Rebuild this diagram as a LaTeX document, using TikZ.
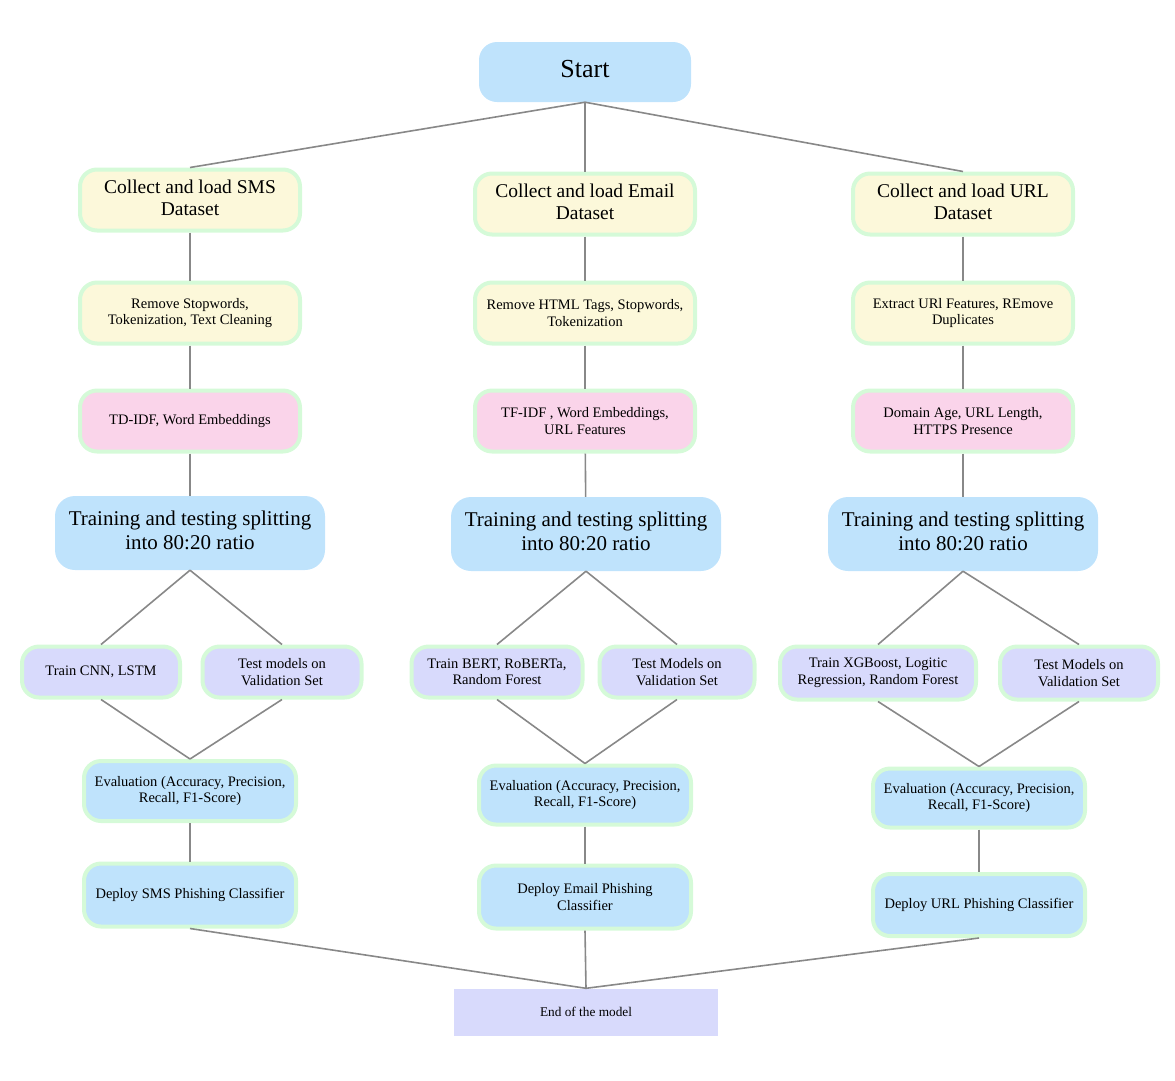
\documentclass[tikz,border=0pt]{standalone}
\usepackage{fontspec}
\usepackage{graphicx}
\setmainfont{Liberation Serif}
\definecolor{cblue}{HTML}{BFE3FC}
\definecolor{cyellow}{HTML}{FCF8DA}
\definecolor{cpink}{HTML}{FAD4EA}
\definecolor{clav}{HTML}{D8DAFC}
\definecolor{cgreen}{HTML}{D5FAD8}
\definecolor{cline}{HTML}{888888}
\newcommand\sctxt[3]{\scalebox{#1}{\fontsize{10}{#2}\selectfont\begin{tabular}{@{}c@{}}#3\end{tabular}}}
\newcommand\bigtxt[1]{\sctxt{1.95}{11.3}{#1}}
\newcommand\trtxt[1]{\sctxt{2.1}{11.4}{#1}}
\begin{document}
\begin{tikzpicture}[x=1pt,y=-1pt,
  base/.style={align=center,inner sep=0pt},
  bbox/.style={base,rounded corners=17pt,draw=cgreen,line width=4pt},
  small/.style={font=\fontsize{14.5}{16.5}\selectfont},
  ybox/.style={bbox,fill=cyellow,minimum width=220pt,minimum height=61pt},
  pbox/.style={bbox,fill=cpink,small,minimum width=220pt,minimum height=61pt},
  tbox/.style={base,fill=cblue,rounded corners=20pt,minimum width=270pt,minimum height=74pt},
  lbox/.style={bbox,fill=clav,small,minimum height=51pt},
  ebox/.style={bbox,fill=cblue,small,minimum width=212pt},
  conn/.style={draw=cline,line width=1.6pt}]
\useasboundingbox (0,0) rectangle (1175,1080);

\node[base,fill=cblue,rounded corners=18pt,minimum width=212pt,minimum height=60pt] (start) at (585,72) {\sctxt{2.6}{11.5}{Start}};

% column SMS
\node[ybox] (s1) at (190,200) {\bigtxt{Collect and load SMS\\Dataset}};
\node[ybox,small] (s2) at (190,313) {Remove Stopwords,\\Tokenization, Text Cleaning};
\node[pbox] (s3) at (190,421) {TD-IDF, Word Embeddings};
\node[tbox] (s4) at (190,533) {\trtxt{Training and testing splitting\\into 80:20 ratio}};
\node[lbox,minimum width=158pt] (s5) at (101,672) {Train CNN, LSTM};
\node[lbox,minimum width=159pt] (s6) at (282,672) {Test models on\\Validation Set};
\node[ebox,minimum height=60pt] (s7) at (190,791) {Evaluation (Accuracy, Precision,\\Recall, F1-Score)};
\node[ebox,minimum height=63pt] (s8) at (190,895) {Deploy SMS Phishing Classifier};

% column Email
\node[ybox] (m1) at (585,204) {\bigtxt{Collect and load Email\\Dataset}};
\node[ybox,small] (m2) at (585,313) {Remove HTML Tags, Stopwords,\\Tokenization};
\node[pbox] (m3) at (585,421) {TF-IDF , Word Embeddings,\\URL Features};
\node[tbox] (m4) at (586,534) {\trtxt{Training and testing splitting\\into 80:20 ratio}};
\node[lbox,minimum width=171pt] (m5) at (497,672) {Train BERT, RoBERTa,\\Random Forest};
\node[lbox,minimum width=155pt] (m6) at (677,672) {Test Models on\\Validation Set};
\node[ebox,minimum height=59pt] (m7) at (585,795) {Evaluation (Accuracy, Precision,\\Recall, F1-Score)};
\node[ebox,minimum height=63pt] (m8) at (585,897) {Deploy Email Phishing\\Classifier};

% column URL
\node[ybox] (u1) at (963,204) {\bigtxt{Collect and load URL\\Dataset}};
\node[ybox,small] (u2) at (963,313) {Extract URl Features, REmove\\Duplicates};
\node[pbox] (u3) at (963,421) {Domain Age, URL Length,\\HTTPS Presence};
\node[tbox] (u4) at (963,534) {\trtxt{Training and testing splitting\\into 80:20 ratio}};
\node[lbox,minimum width=196pt,minimum height=53pt] (u5) at (878,673) {Train XGBoost, Logitic\\Regression, Random Forest};
\node[lbox,minimum width=158pt,minimum height=53pt] (u6) at (1079,673) {Test Models on\\Validation Set};
\node[ebox,minimum height=59pt] (u7) at (979,798) {Evaluation (Accuracy, Precision,\\Recall, F1-Score)};
\node[ebox,minimum height=62pt] (u8) at (979,905) {Deploy URL Phishing Classifier};

\node[base,fill=clav,minimum width=264pt,minimum height=47pt,font=\fontsize{13.3}{15}\selectfont] (end) at (586,1012) {End of the model};

% connectors
\draw[conn] (start.south) -- (s1.north);
\draw[conn] (start.south) -- (m1.north);
\draw[conn] (start.south) -- (u1.north);
\foreach \c in {s,m,u}{
  \draw[conn] (\c1) -- (\c2);
  \draw[conn] (\c2) -- (\c3);
  \draw[conn] (\c3) -- (\c4);
  \draw[conn] (\c4.south) -- (\c5.north);
  \draw[conn] (\c4.south) -- (\c6.north);
  \draw[conn] (\c5.south) -- (\c7.north);
  \draw[conn] (\c6.south) -- (\c7.north);
  \draw[conn] (\c7) -- (\c8);
  \draw[conn] (\c8.south) -- (end.north);
}
\end{tikzpicture}
\end{document}
